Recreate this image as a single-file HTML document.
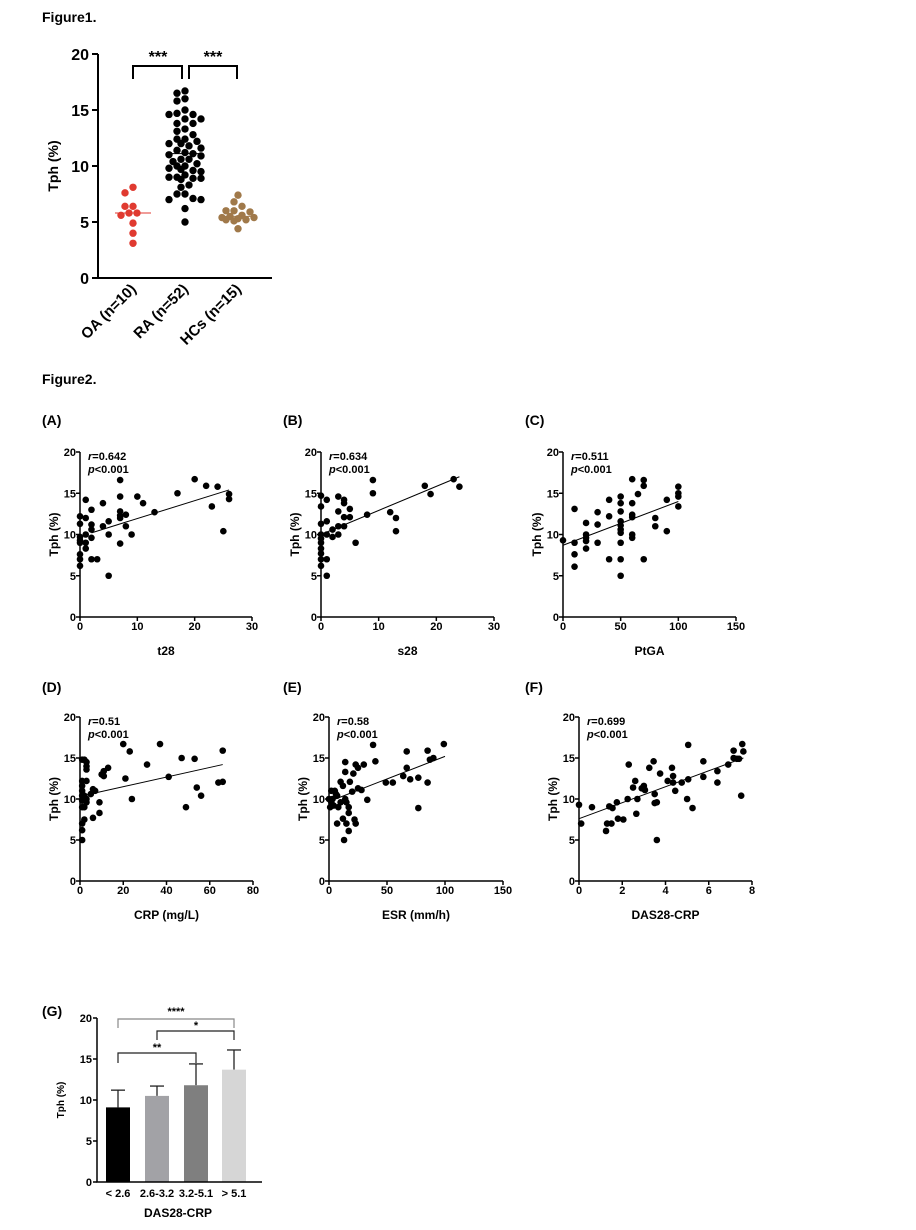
<!DOCTYPE html>
<html><head><meta charset="utf-8"><style>
body{margin:0;background:#fff;}
svg{display:block;font-family:"Liberation Sans",Arial,sans-serif;font-weight:bold;}
</style></head><body>
<svg id="fig" width="916" height="1230" viewBox="0 0 916 1230" xmlns="http://www.w3.org/2000/svg">
<text x="42" y="22" font-size="14">Figure1.</text>
<text x="42" y="384" font-size="14">Figure2.</text>
</svg>
<script>
// ===== Figure 1 data =====
const f1Categories = ["OA (n=10)", "RA (n=52)", "HCs (n=15)"];
const f1OA = [8.1,7.6,6.4,6.4,5.8,5.8,5.6,4.9,4.0,3.1];
const f1RA = [16.7,16.5,16.0,15.8,15.0,14.7,14.6,14.6,14.2,14.2,13.8,13.8,13.3,13.1,12.8,12.4,12.4,12.2,12.0,12.0,11.8,11.6,11.4,11.2,11.1,11.0,10.9,10.6,10.6,10.4,10.2,10.0,10.0,9.8,9.6,9.5,9.2,9.0,9.0,8.9,8.9,8.8,8.3,8.1,7.5,7.5,7.1,7.0,7.0,6.2,5.0,9.7];
const f1HC = [7.4,6.8,6.4,6.0,6.0,5.9,5.6,5.5,5.4,5.4,5.3,5.2,5.2,5.1,4.4];
const f1Means = [5.8,11.1,5.5];
const f1Ticks = [0,5,10,15,20];

// ===== Figure 2 scatter data =====
const aX=[0,0,0,0,0,0,0,0,1,1,1,1,1,2,2,2,2,2,3,4,4,5,5,5,7,7,7,7,7,7,8,8,9,10,11,13,17,20,22,23,24,25,26,26];
const aY=[12.2,11.3,9.7,9.3,9,7.6,7,6.2,14.2,12,10,9,8.3,13,11.2,10.6,9.6,7,7,13.8,11,11.6,10,5,16.6,14.6,12.8,12.3,12,8.9,12.4,11,10,14.6,13.8,12.7,15,16.7,15.9,13.4,15.8,10.4,14.9,14.3];
const aFit=[[2,10.2],[26,15.4]];
const bX=[0,0,0,0,0,0,0,0,0,0,1,1,1,1,1,2,2,3,3,3,3,4,4,4,4,5,5,6,8,9,9,12,13,13,18,19,23,24];
const bY=[14.7,13.4,11.3,10,9.5,9,8.3,7.7,7,6.2,14.2,11.6,10,7,5,10.6,9.7,14.6,12.8,11,10,14.2,13.8,12.1,11,13.1,12.1,9,12.4,16.6,15,12.7,12,10.4,15.9,14.9,16.7,15.8];
const bFit=[[0,10],[24,17]];
const cX=[0,10,10,10,10,20,20,20,20,20,30,30,30,40,40,40,50,50,50,50,50,50,50,50,50,50,60,60,60,60,60,60,65,70,70,70,80,80,90,90,100,100,100,100];
const cY=[9.3,13.1,9,7.6,6.1,11.4,10,9.6,9.2,8.3,12.7,11.2,9,14.2,12.2,7,14.6,13.8,12.8,11.6,11.1,10.6,10.2,9,7,5,16.7,13.8,12.4,12.1,10,9.6,14.9,16.6,15.9,7,12,11,14.2,10.4,15.8,15,14.6,13.4];
const cFit=[[0,8.7],[100,14]];
const dX=[1,1,1,1,1,1,1,1,1,1,2,2,2,2,3,3,3,3,3,3,5,6,6,7,9,9,10,11,11,13,20,21,23,24,31,37,41,47,49,53,54,56,64,66,66];
const dY=[14.8,12.2,11.6,11,10.4,9.8,9,7,6.2,5,14.8,10.4,9,7.5,14.5,14,13.6,12.2,10,9.6,10.6,11.2,7.7,11,9.6,8.3,13,13.4,12.8,13.8,16.7,12.5,15.8,10,14.2,16.7,12.7,15,9,14.9,11.4,10.4,12,15.9,12.1];
const dFit=[[3,10.5],[66,14.2]];
const eX=[0,1,2,2,3,4,5,6,7,7,8,10,10,12,12,13,14,14,14,15,15,17,17,17,18,20,21,22,23,23,25,25,28,30,33,38,40,49,55,64,67,67,70,77,77,85,85,87,90,99];
const eY=[10,9,9.6,11,10,9.2,11,10.6,7,10.4,9,12.1,9.6,7.6,11.6,5,14.5,13.3,10,9.6,7,9,8.3,6.1,12.1,10.9,13.1,7.5,14.2,7,13.8,11.3,11.1,14.2,9.9,16.6,14.6,12,12,12.8,15.8,13.8,12.4,12.6,8.9,15.9,12,14.8,15,16.7];
const eFit=[[2,9.8],[100,15.2]];
const fX=[0,0.1,0.6,1.25,1.3,1.4,1.5,1.55,1.75,1.8,2.05,2.25,2.3,2.5,2.6,2.65,2.7,2.9,3,3.05,3.25,3.45,3.5,3.5,3.6,3.6,3.75,4.1,4.3,4.35,4.35,4.45,4.75,5.05,5.05,5.0,5.25,5.75,5.75,6.4,6.4,6.9,7.15,7.15,7.3,7.4,7.5,7.55,7.6];
const fY=[9.3,7,9,6.1,7,9.1,7,8.9,9.6,7.6,7.5,10,14.2,11.4,12.2,8.2,10,11.3,11.6,11.1,13.8,14.6,9.5,10.6,9.6,5,13.1,12.2,13.8,12.8,12,11,12,16.6,12.4,10,8.9,14.6,12.7,13.4,12,14.2,15.9,15,14.9,14.9,10.4,16.7,15.8];
const fFit=[[0,7.6],[7.6,15]];
const scatterTicksY=[0,5,10,15,20];

// ===== Figure G data =====
const gCategories=["< 2.6","2.6-3.2","3.2-5.1","> 5.1"];
const gMeans=[9.1,10.5,11.8,13.7];
const gErrTop=[11.2,11.7,14.4,16.1];
const gTicks=[0,5,10,15,20];

const NS="http://www.w3.org/2000/svg";
const svg=document.getElementById('fig');
function mk(tag,attrs,parent,text){const e=document.createElementNS(NS,tag);for(const k in attrs)e.setAttribute(k,attrs[k]);if(text!==undefined)e.textContent=text;(parent||svg).appendChild(e);return e;}

// ---------- Figure 1 ----------
(function(){
 const g=mk('g',{});
 
 
 const X0=98,X1=272,Y0=278,Y1=54;
 const y=v=>Y0-(v/20)*(Y0-Y1);
 const cx=[133,185,238];
 const maxW=[16,17,17];
 mk('path',{d:`M${X0} ${Y1}V${Y0}H${X1}`,stroke:'#000','stroke-width':2,fill:'none'},g);
 f1Ticks.forEach(t=>{
  mk('line',{x1:X0-6,x2:X0,y1:y(t),y2:y(t),stroke:'#000','stroke-width':2},g);
  const tl=mk('text',{x:X0-9,y:y(t)+6,'font-size':16,'text-anchor':'end'},g,String(t));
  
  
 });
 const yt=mk('text',{transform:`translate(58,166) rotate(-90)`,'font-size':14,'text-anchor':'middle'},g,'Tph (%)');
 
 
 const sets=[f1OA,f1RA,f1HC], cols=['#e03a30','#000','#a0794a'];
 const r=3.7;
 sets.forEach((vals,i)=>{
  const placed=[];
  vals.forEach(v=>{
   const py=y(v);
   let best=0,bestD=-1;
   const cands=[0];
   for(let s=4;s<=maxW[i];s+=4){cands.push(-s,s);}
   for(const c of cands){
    let md=1e9;placed.forEach(p=>{md=Math.min(md,Math.hypot(p[0]-(cx[i]+c),p[1]-py));});
    if(md>=2*r){best=c;bestD=1e9;break;}
    if(md>bestD){bestD=md;best=c;}
   }
   placed.push([cx[i]+best,py]);
   const c=mk('circle',{cx:cx[i]+best,cy:py,r:r,fill:cols[i]},g);
   
   
  });
  mk('line',{x1:cx[i]-18,x2:cx[i]+18,y1:y(f1Means[i]),y2:y(f1Means[i]),stroke:cols[i],'stroke-width':1},g);
  const lbl=mk('text',{transform:`translate(${cx[i]+4},${Y0+12}) rotate(-45)`,'font-size':15,'text-anchor':'end'},g,f1Categories[i]);
  
  
 });
 mk('path',{d:`M133 79V66H182V79M189 79V66H237V79`,stroke:'#000','stroke-width':2,fill:'none'},g);
 mk('text',{x:158,y:62,'font-size':16,'text-anchor':'middle'},g,'***');
 mk('text',{x:213,y:62,'font-size':16,'text-anchor':'middle'},g,'***');
})();

// ---------- Figure 2 scatter panels ----------
function scatter(o){
 const g=mk('g',{});
 
 
 const {x0,xw,y0,yh,xmax,xticks}=o;
 const sx=v=>x0+v/xmax*xw, sy=v=>y0-v/20*yh;
 mk('text',{x:o.lx,y:o.ly,'font-size':14},g,o.label);
 mk('path',{d:`M${x0} ${y0-yh}V${y0}H${x0+xw}`,stroke:'#000','stroke-width':1.5,fill:'none'},g);
 scatterTicksY.forEach(t=>{
  mk('line',{x1:x0-4,x2:x0,y1:sy(t),y2:sy(t),stroke:'#000','stroke-width':1.5},g);
  mk('text',{x:x0-4,y:sy(t)+4,'font-size':11,'text-anchor':'end'},g,String(t));
 });
 xticks.forEach(t=>{
  mk('line',{x1:sx(t),x2:sx(t),y1:y0,y2:y0+4,stroke:'#000','stroke-width':1.5},g);
  mk('text',{x:sx(t),y:y0+13,'font-size':11,'text-anchor':'middle'},g,String(t));
 });
 const yt=mk('text',{transform:`translate(${x0-22},${y0-yh/2}) rotate(-90)`,'font-size':12,'text-anchor':'middle'},g,'Tph (%)');
 
 
 const xt=mk('text',{x:x0+xw/2,y:y0+38,'font-size':12,'text-anchor':'middle'},g,o.xtitle);
 
 
 const t1=mk('text',{x:x0+8,y:y0-yh+8,'font-size':11},g);
 mk('tspan',{'font-style':'italic'},t1,'r');mk('tspan',{},t1,'='+o.r);
 const t2=mk('text',{x:x0+8,y:y0-yh+21,'font-size':11},g);
 mk('tspan',{'font-style':'italic'},t2,'p');mk('tspan',{},t2,'<0.001');
 o.xs.forEach((v,i)=>{
  const c=mk('circle',{cx:sx(v),cy:sy(o.ys[i]),r:3.3,fill:'#000'},g);
  
  
 });
 const fl=mk('line',{x1:sx(o.fit[0][0]),y1:sy(o.fit[0][1]),x2:sx(o.fit[1][0]),y2:sy(o.fit[1][1]),stroke:'#000','stroke-width':1},g);
 
 
}
scatter({name:'a',label:'(A)',lx:42,ly:425,x0:80,xw:172,y0:617,yh:165,xmax:30,xticks:[0,10,20,30],xtitle:'t28',r:'0.642',xs:aX,ys:aY,fit:aFit});
scatter({name:'b',label:'(B)',lx:283,ly:425,x0:321,xw:173,y0:617,yh:165,xmax:30,xticks:[0,10,20,30],xtitle:'s28',r:'0.634',xs:bX,ys:bY,fit:bFit});
scatter({name:'c',label:'(C)',lx:525,ly:425,x0:563,xw:173,y0:617,yh:165,xmax:150,xticks:[0,50,100,150],xtitle:'PtGA',r:'0.511',xs:cX,ys:cY,fit:cFit});
scatter({name:'d',label:'(D)',lx:42,ly:692,x0:80,xw:173,y0:881,yh:164,xmax:80,xticks:[0,20,40,60,80],xtitle:'CRP (mg/L)',r:'0.51',xs:dX,ys:dY,fit:dFit});
scatter({name:'e',label:'(E)',lx:283,ly:692,x0:329,xw:174,y0:881,yh:164,xmax:150,xticks:[0,50,100,150],xtitle:'ESR (mm/h)',r:'0.58',xs:eX,ys:eY,fit:eFit});
scatter({name:'f',label:'(F)',lx:525,ly:692,x0:579,xw:173,y0:881,yh:164,xmax:8,xticks:[0,2,4,6,8],xtitle:'DAS28-CRP',r:'0.699',xs:fX,ys:fY,fit:fFit});

// ---------- Figure G ----------
(function(){
 const g=mk('g',{});
 
 
 mk('text',{x:42,y:1016,'font-size':14},g,'(G)');
 const X0=97,X1=262,Y0=1182,YH=164;
 const sy=v=>Y0-v/20*YH;
 const cx=[118,157,196,234],bw=24;
 const cols=['#000','#a2a2a6','#7f7f7f','#d6d6d6'];
 gMeans.forEach((v,i)=>{
  mk('line',{x1:cx[i],x2:cx[i],y1:sy(v),y2:sy(gErrTop[i]),stroke:'#222','stroke-width':1.3},g);
  mk('line',{x1:cx[i]-7,x2:cx[i]+7,y1:sy(gErrTop[i]),y2:sy(gErrTop[i]),stroke:'#222','stroke-width':1.3},g);
  const b=mk('rect',{x:cx[i]-bw/2,y:sy(v),width:bw,height:Y0-sy(v),fill:cols[i]},g);
  
  
  mk('text',{x:cx[i],y:Y0+15,'font-size':11,'text-anchor':'middle'},g,gCategories[i]);
 });
 mk('path',{d:`M${X0} ${Y0-YH}V${Y0}H${X1}`,stroke:'#000','stroke-width':1.5,fill:'none'},g);
 gTicks.forEach(t=>{
  mk('line',{x1:X0-4,x2:X0,y1:sy(t),y2:sy(t),stroke:'#000','stroke-width':1.5},g);
  mk('text',{x:X0-5,y:sy(t)+4,'font-size':11,'text-anchor':'end'},g,String(t));
 });
 mk('text',{transform:`translate(64,${Y0-YH/2}) rotate(-90)`,'font-size':10,'text-anchor':'middle'},g,'Tph (%)');
 mk('text',{x:178,y:1217,'font-size':12,'text-anchor':'middle'},g,'DAS28-CRP');
 mk('path',{d:`M118 1063V1053H196V1063`,stroke:'#222','stroke-width':1.2,fill:'none'},g);
 mk('text',{x:157,y:1051,'font-size':11,'text-anchor':'middle'},g,'**');
 mk('path',{d:`M157 1040V1031H234V1040`,stroke:'#222','stroke-width':1.2,fill:'none'},g);
 mk('text',{x:196,y:1029,'font-size':11,'text-anchor':'middle'},g,'*');
 mk('path',{d:`M118 1028V1019H234V1028`,stroke:'#888','stroke-width':1.2,fill:'none'},g);
 mk('text',{x:176,y:1015,'font-size':11,'text-anchor':'middle'},g,'****');
})();
</script>
</body></html>
